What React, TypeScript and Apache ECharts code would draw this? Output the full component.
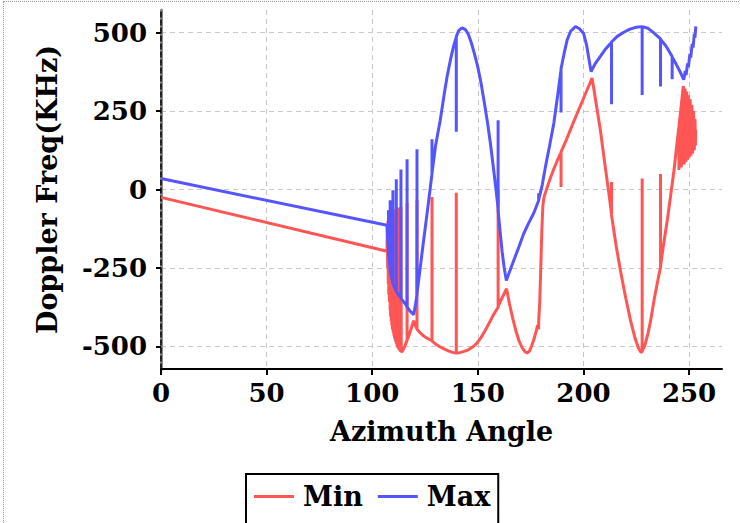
import React, { useEffect, useRef } from "react";
import * as echarts from "echarts";

const xTicks = [0, 50, 100, 150, 200, 250];
const yTicks = [-500, -250, 0, 250, 500];
const seriesNames = ["Min", "Max"];
const xTitle = "Azimuth Angle";
const yTitle = "Doppler Freq(KHz)";

// [azimuth, doppler] pairs
const minData: [number, number][] = [
  [0, -25], [107, -197],
  [107.15, -110], [107.3, -250], [107.45, -100], [107.6, -300], [107.7, -92], [107.85, -335], [108.0, -86], [108.15, -358],
  [108.3, -82], [108.5, -385], [108.5, -78], [108.7, -405], [108.85, -75], [109.0, -420], [109.15, -73], [109.3, -434],
  [109.45, -71], [109.6, -446], [109.8, -69], [109.95, -456], [110.1, -67], [110.25, -465], [110.4, -66], [110.55, -473],
  [110.7, -64], [110.85, -481], [111.0, -63], [111.15, -487], [111.4, -61], [111.5, -494], [111.65, -60], [111.85, -500],
  [112.0, -59], [112.2, -506], [112.4, -58], [112.6, -510], [112.8, -57], [113.0, -514], [113.2, -57], [113.4, -517],
  [113.6, -56], [113.75, -519],
  [114.5, -513], [115.5, -498], [116.5, -480], [116.5, -43], [116.5, -480], [117.5, -463], [118.5, -442], [119.6, -418],
  [120.3, -432], [121.2, -444], [121.2, -32], [121.2, -445], [122.5, -455], [124, -465], [126, -474], [128.3, -482],
  [128.3, -24], [128.3, -483], [130, -492], [132, -501], [134, -508], [136, -514], [138, -519], [139.8, -521],
  [139.8, -10], [139.8, -521], [141.5, -520], [143.5, -516], [145.5, -511], [147.5, -502], [149.5, -490], [151.5, -472],
  [153.5, -449], [155.5, -424], [157.5, -398], [159.6, -375], [159.6, 0], [159.6, -372], [161.5, -345], [163.6, -316],
  [165, -365], [166.5, -410], [168, -450], [169.5, -482], [171, -505], [172.3, -517], [173.3, -521], [174.5, -514],
  [175.5, -498], [176.5, -478], [177.5, -455], [178.3, -432], [178.8, -445], [178.8, -420], [179.3, -360], [179.8, -250],
  [180.3, -130], [180.8, -50], [181.4, -22], [182, -10], [184, 30], [186, 66], [188, 98], [189.4, 118],
  [189.4, 8], [189.4, 120], [192, 160], [195, 210], [198, 258], [201, 306], [204.1, 355], [206, 275],
  [208, 190], [210.4, 68], [212, -10], [213.3, -78], [213.3, 24], [213.3, -82], [215.5, -180], [217.5, -258],
  [220, -345], [222.3, -418], [224.5, -475], [226, -505], [227.2, -519], [227.8, -517], [227.8, 35], [227.8, -515],
  [229, -498], [230.5, -460], [231.8, -418], [233.5, -350], [235, -297], [236.5, -247], [236.5, 49], [236.5, -245],
  [238, -172], [239.7, -98], [241.3, -18], [242.9, 62], [244, 130], [245.2, 200], [245.2, 62], [245.3, 205],
  [246.3, 268], [246.3, 70], [246.4, 275], [247.3, 330], [247.7, 80], [248.1, 322], [248.5, 88], [248.9, 312],
  [249.3, 95], [249.7, 300], [250.1, 102], [250.5, 288], [250.9, 108], [251.3, 270], [251.7, 115], [252.1, 250],
  [252.5, 125], [252.8, 225], [253.0, 140], [253.15, 190],
];

const maxData: [number, number][] = [
  [0, 35], [107, -114], [107.4, -165], [107.7, -195], [107.7, -66], [107.7, -200], [108.1, -230], [108.5, -255],
  [108.5, -34], [108.5, -258], [109.2, -282], [109.8, -298], [109.8, -2], [109.8, -300], [110.6, -313], [111.4, -324],
  [111.4, 33], [111.4, -325], [112.5, -336], [113.6, -346], [113.6, 64], [113.6, -347], [115, -359], [116.5, -373],
  [116.5, 96], [116.5, -374], [118, -388], [119.6, -399], [120.4, -370], [121.2, -335], [121.2, 128], [121.2, -332],
  [122.5, -262], [124, -180], [126, -75], [128.3, 50], [128.3, 160], [128.3, 52], [130, 140], [132.2, 221],
  [134, 300], [135.4, 358], [137, 412], [138.5, 456], [139.8, 485], [139.8, 184], [139.8, 487], [141, 507],
  [142.5, 515], [144, 510], [145.5, 495], [147, 466], [148.5, 430], [150, 390], [151.5, 340], [153, 280],
  [154.5, 217], [156, 145], [157.5, 62], [158.6, 0], [159.6, -60], [159.6, 221], [159.6, -67], [160.5, -130],
  [161.5, -198], [162.5, -250], [163.5, -290], [165, -262], [167, -226], [169.5, -182], [171.7, -141], [174, -108],
  [176.5, -75], [178.8, -35], [178.8, -12], [178.8, -33], [180.5, 15], [182, 72], [184, 140], [186, 212],
  [188, 310], [189.4, 382], [189.4, 245], [189.4, 385], [190.8, 432], [192.3, 477], [194, 505], [196.2, 519],
  [198, 513], [200.1, 497], [201.5, 460], [202.5, 420], [203.6, 376], [205.5, 400], [208, 424], [210.5, 448],
  [213.3, 469], [213.3, 272], [213.3, 470], [216, 488], [219.1, 501], [222, 511], [225, 517], [227.8, 519],
  [227.8, 301], [227.8, 519], [230.5, 514], [233.3, 499], [236.5, 480], [236.5, 328], [236.5, 478], [239, 458],
  [242, 424], [242, 351], [242, 422], [244, 398], [246, 372], [247.5, 350], [248.2, 378], [248.6, 365],
  [249.3, 402], [249.7, 390], [250.4, 432], [250.8, 420], [251.5, 464], [251.9, 452], [252.5, 496], [252.8, 484],
  [253.2, 520],
];

const colors = ["#ff5555", "#5555ff"];

export default function App() {
  const ref = useRef<HTMLDivElement>(null);
  useEffect(() => {
    const chart = echarts.init(ref.current!, null, { renderer: "svg" });
    const font = "'DejaVu Serif', serif";
    const tickLabel = { fontSize: 26, fontWeight: "bold", color: "#000", fontFamily: font };
    const nameStyle = { fontSize: 27, fontWeight: "bold", color: "#000", fontFamily: font };
    const split = { show: true, lineStyle: { color: "#c8c8c8", type: [5, 4], width: 1 } };
    chart.setOption({
      animation: false,
      textStyle: { fontFamily: font },
      grid: { left: 161, right: 18, top: 10, bottom: 154 },
      legend: {
        show: true,
        data: seriesNames,
        icon: "rect",
        left: 246,
        top: 474,
        orient: "horizontal",
        padding: [9, 8, 20, 8],
        itemGap: 15,
        itemWidth: 40,
        itemHeight: 3,
        borderColor: "#000",
        borderWidth: 2,
        textStyle: { ...nameStyle, padding: [0, 0, 0, 4] },
      },
      xAxis: {
        type: "value",
        min: 0,
        max: 265.6,
        name: xTitle,
        nameLocation: "middle",
        nameGap: 49,
        nameTextStyle: nameStyle,
        axisLine: { show: true, onZero: false, lineStyle: { color: "#000", width: 2 } },
        axisTick: { show: true, length: 6, customValues: xTicks, lineStyle: { color: "#000", width: 2 } },
        axisLabel: { customValues: xTicks, margin: 11, ...tickLabel },
        splitLine: split,
      },
      yAxis: [
        {
          type: "value",
          min: -572,
          max: 572,
          name: yTitle,
          nameLocation: "middle",
          nameGap: 100,
          nameTextStyle: nameStyle,
          axisLine: { show: true, onZero: false, lineStyle: { color: "#8c8c8c", width: 3 } },
          axisTick: { show: true, length: 5, customValues: yTicks, lineStyle: { color: "#000", width: 2 } },
          axisLabel: { customValues: yTicks, margin: 14, ...tickLabel },
          splitLine: split,
        },
        {
          type: "value",
          min: -572,
          max: 572,
          position: "left",
          offset: 0,
          axisLine: { show: true, onZero: false, lineStyle: { color: "#000", width: 1.5, type: [5, 3] } },
          axisTick: { show: false },
          axisLabel: { show: false },
          splitLine: { show: false },
        },
      ],
      series: [
        {
          name: seriesNames[0],
          type: "line",
          data: minData,
          yAxisIndex: 0,
          symbol: "none",
          showSymbol: false,
          lineStyle: { color: colors[0], width: 3 },
          itemStyle: { color: colors[0] },
        },
        {
          name: seriesNames[1],
          type: "line",
          data: maxData,
          yAxisIndex: 0,
          symbol: "none",
          showSymbol: false,
          lineStyle: { color: colors[1], width: 3 },
          itemStyle: { color: colors[1] },
        },
      ],
    });
    return () => chart.dispose();
  }, []);
  return (
    <div style={{ position: "fixed", left: 0, top: 0, width: 740, height: 523, overflow: "hidden", background: "#fff" }}>
      <div
        style={{
          position: "absolute",
          left: 3,
          top: 1,
          width: 800,
          height: 600,
          border: "1px dotted #999",
          pointerEvents: "none",
        }}
      />
      <div ref={ref} style={{ position: "absolute", left: 0, top: 0, width: 740, height: 523 }} />
    </div>
  );
}
